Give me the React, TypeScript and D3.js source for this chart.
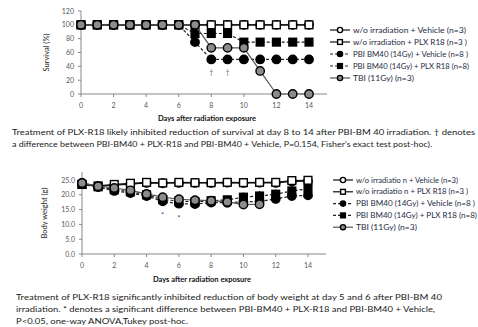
import React from "react";
import * as d3 from "d3";

// ---------- DATA ----------
const days = [0, 1, 2, 3, 4, 5, 6, 7, 8, 9, 10, 11, 12, 13, 14];
const seriesNames = [
  "w/o irradiation + Vehicle  (n=3)",
  "w/o irradiation + PLX R18 (n=3 )",
  "PBI BM40 (14Gy) + Vehicle (n=8 )",
  "PBI BM40 (14Gy) + PLX R18 (n=8)",
  "TBI (11Gy)  (n=3)",
];
const seriesNames2 = [
  "w/o irradiatio n + Vehicle  (n=3)",
  "w/o irradiatio n + PLX R18 (n=3 )",
  "PBI BM40 (14Gy) + Vehicle (n=8 )",
  "PBI BM40 (14Gy) + PLX R18 (n=8)",
  "TBI (11Gy)  (n=3)",
];
// Survival (%)
const survWoVeh = [100, 100, 100, 100, 100, 100, 100, 100, 100, 100, 100, 100, 100, 100, 100];
const survWoPlx = [100, 100, 100, 100, 100, 100, 100, 100, 100, 100, 100, 100, 100, 100, 100];
const survPbiVeh = [100, 100, 100, 100, 100, 100, 100, 75, 50, 50, 50, 50, 50, 50, 50];
const survPbiPlx = [100, 100, 100, 100, 100, 100, 100, 87.5, 87.5, 87.5, 75, 75, 75, 75, 75];
const survTbi = [100, 100, 100, 100, 100, 100, 100, 100, 66.7, 66.7, 66.7, 33.3, 0, 0, 0];
const survTicks = [0, 20, 40, 60, 80, 100, 120];
const daggerDays = [8, 9];
// Body weight (g)
const bwWoVeh = [24.0, 22.8, 23.3, 23.6, 24.0, 23.9, 24.0, 24.0, 24.0, 24.1, 24.0, 24.1, 24.0, 24.5, 24.6];
const bwWoPlx = [23.5, 23.0, 23.5, 23.9, 24.2, 24.0, 24.2, 24.1, 24.1, 24.2, 24.1, 24.2, 24.2, 24.8, 24.9];
const bwPbiVeh = [23.6, 22.6, 21.3, 20.6, 19.6, 17.8, 17.0, 16.9, 17.4, 17.3, 17.6, 17.8, 18.6, 19.6, 19.8];
const bwPbiPlx = [23.5, 22.7, 21.7, 21.0, 20.0, 18.4, 17.9, 17.6, 18.0, 18.3, 19.2, 19.6, 20.2, 21.3, 22.0];
const bwTbi = [24.0, 22.9, 22.3, 21.5, 20.3, 19.2, 18.5, 18.2, 18.0, 17.6, 16.7, 16.8];
const sdPbiVeh = [0.4, 0.5, 0.6, 0.6, 0.7, 0.8, 0.9, 1.0, 1.1, 1.2, 1.2, 1.3, 1.3, 1.2, 1.2];
const sdPbiPlx = [0.4, 0.5, 0.6, 0.6, 0.7, 0.8, 0.9, 1.0, 1.2, 1.5, 1.6, 1.7, 1.6, 1.5, 1.5];
const sdTbi = [0.3, 0.4, 0.4, 0.5, 0.6, 0.7, 0.8, 0.9, 1.3, 1.1, 0.8, 0.8];
const bwTicks = [0, 5, 10, 15, 20, 25];
const starDays = [5, 6];
const xTicks = [0, 2, 4, 6, 8, 10, 12, 14];

const caption1 = [
  "Treatment  of PLX-R18 likely inhibited reduction of survival at day 8 to 14 after PBI-BM 40 irradiation.  \u2020 denotes",
  "a difference between  PBI-BM40 + PLX-R18 and PBI-BM40 + Vehicle,  P=0.154, Fisher's exact test post-hoc).",
];
const caption2 = [
  "Treatment  of PLX-R18 significantly inhibited  reduction of body weight  at day 5 and  6 after PBI-BM 40",
  "irradiation.  * denotes  a significant  difference  between  PBI-BM40 + PLX-R18 and PBI-BM40 + Vehicle,",
  "P<0.05, one-way ANOVA,Tukey  post-hoc.",
];

const FONT = "Lato, 'Open Sans', sans-serif";

type Style = { shape: "circle" | "square"; fill: string; dash?: string; lineColor: string };
const styles: Style[] = [
  { shape: "circle", fill: "#ffffff", lineColor: "#111" },
  { shape: "square", fill: "#ffffff", lineColor: "#111" },
  { shape: "circle", fill: "#000000", dash: "3,2", lineColor: "#222" },
  { shape: "square", fill: "#000000", dash: "3,2", lineColor: "#222" },
  { shape: "circle", fill: "#8c8c8c", lineColor: "#555" },
];

function Marker({ x, y, s, r }: { x: number; y: number; s: Style; r: number }) {
  if (s.shape === "circle")
    return <circle cx={x} cy={y} r={r} fill={s.fill} stroke="#000" strokeWidth={1.4} />;
  const h = r * 0.92;
  return <rect x={x - h} y={y - h} width={2 * h} height={2 * h} fill={s.fill} stroke="#000" strokeWidth={1.4} />;
}

type ChartProps = {
  series: number[][];
  sds?: (number[] | null)[];
  yDomain: [number, number];
  yRange: [number, number];
  xRange: [number, number];
  axisTop: number;
  axisRight: number;
  yTicks: number[];
  fmt: (v: number) => string;
  yTitle: string;
  yTitleX: number;
  xTitleX: number;
  xTitleY: number;
  xLabelY: number;
  legendX: number;
  legendY: number;
  legendStep: number;
  legendNames: string[];
  legendLens: number[];
  marks: { days: number[]; y: number; ch: string; color: string; size: number };
};

function Chart(p: ChartProps) {
  const x = d3.scaleLinear().domain([0, 14]).range(p.xRange);
  const y = d3.scaleLinear().domain(p.yDomain).range(p.yRange);
  const y0 = p.yRange[0];
  const x0 = p.xRange[0];
  const line = d3
    .line<number>()
    .x((_, i) => x(days[i]))
    .y((v) => y(v));
  const yMid = (p.yRange[0] + p.axisTop) / 2;
  return (
    <g fontFamily={FONT}>
      {/* axes */}
      <line x1={x0} x2={x0} y1={p.axisTop} y2={y0} stroke="#888" strokeWidth={1} />
      <line x1={x0} x2={p.axisRight} y1={y0} y2={y0} stroke="#888" strokeWidth={1} />
      {p.yTicks.map((t) => (
        <g key={"yt" + t}>
          <line x1={x0 - 3} x2={x0} y1={y(t)} y2={y(t)} stroke="#888" />
          <text x={x0 - 7} y={y(t) + 2.5} fontSize={7} fill="#595959" textAnchor="end">
            {p.fmt(t)}
          </text>
        </g>
      ))}
      {xTicks.map((t) => (
        <g key={"xt" + t}>
          <line x1={x(t)} x2={x(t)} y1={y0} y2={y0 + 3} stroke="#888" />
          <text x={x(t)} y={p.xLabelY} fontSize={7} fill="#595959" textAnchor="middle">
            {t}
          </text>
        </g>
      ))}
      <text
        transform={`translate(${p.yTitleX},${yMid}) rotate(-90)`}
        fontSize={7.5}
        fill="#222"
        textAnchor="middle"
        dominantBaseline="middle"
      >
        {p.yTitle}
      </text>
      <text x={p.xTitleX} y={p.xTitleY} fontSize={7.5} fontWeight="bold" fill="#111" textAnchor="middle">
        Days after radiation exposure
      </text>
      {/* error bars */}
      {p.sds &&
        p.sds.map((sd, si) =>
          sd
            ? sd.map((e, i) => (
                <line
                  key={"e" + si + "-" + i}
                  x1={x(days[i])}
                  x2={x(days[i])}
                  y1={y(p.series[si][i] - e)}
                  y2={y(p.series[si][i] + e)}
                  stroke="#000"
                  strokeWidth={1}
                />
              ))
            : null
        )}
      {/* series */}
      {p.series.map((vals, si) => (
        <g key={"s" + si}>
          <path d={line(vals) || ""} fill="none" stroke={styles[si].lineColor} strokeWidth={1.2} strokeDasharray={styles[si].dash} />
          {vals.map((v, i) => (
            <Marker key={i} x={x(days[i])} y={y(v)} s={styles[si]} r={4.2} />
          ))}
        </g>
      ))}
      {/* significance marks */}
      {p.marks.days.map((d, i) => (
        <text key={"m" + d} x={x(d)} y={p.marks.y + i * (p.marks.ch === "*" ? 3 : 0)} fontSize={p.marks.size} fill={p.marks.color} textAnchor="middle">
          {p.marks.ch}
        </text>
      ))}
      {/* legend */}
      {p.legendNames.map((n, i) => {
        const ly = p.legendY + i * p.legendStep;
        const s = styles[i];
        return (
          <g key={"l" + i}>
            <line x1={p.legendX} x2={p.legendX + 20} y1={ly} y2={ly} stroke={s.lineColor} strokeWidth={1.2} strokeDasharray={s.dash} />
            <Marker x={p.legendX + 10} y={ly} s={s} r={2.6} />
            <text x={p.legendX + 23} y={ly + 2.5} fontSize={7} fill="#1e2a3f" textLength={p.legendLens[i]} lengthAdjust="spacingAndGlyphs">
              {n}
            </text>
          </g>
        );
      })}
    </g>
  );
}

export default function App() {
  return (
    <svg width={478} height={327} style={{ position: "absolute", left: 0, top: 0, background: "#fff" }}>
      <rect width={478} height={327} fill="#fff" />
      <Chart
        series={[survWoVeh, survWoPlx, survPbiVeh, survPbiPlx, survTbi]}
        yDomain={[0, 120]}
        yRange={[94, 11]}
        xRange={[81, 309]}
        axisTop={11}
        axisRight={327}
        yTicks={survTicks}
        fmt={(v) => String(v)}
        yTitle="Survival (%)"
        yTitleX={47}
        xTitleX={207}
        xTitleY={121}
        xLabelY={108}
        legendX={330}
        legendY={30}
        legendStep={12}
        legendNames={seriesNames}
        legendLens={[113, 114, 115, 116, 61]}
        marks={{ days: daggerDays, y: 75, ch: "\u2020", color: "#5a6a8a", size: 7 }}
      />
      <Chart
        series={[bwWoVeh, bwWoPlx, bwPbiVeh, bwPbiPlx, bwTbi]}
        sds={[null, null, sdPbiVeh, sdPbiPlx, sdTbi]}
        yDomain={[0, 25]}
        yRange={[254, 180]}
        xRange={[82, 308]}
        axisTop={172}
        axisRight={326}
        yTicks={bwTicks}
        fmt={(v) => v.toFixed(1)}
        yTitle="Body weight (g)"
        yTitleX={45}
        xTitleX={202}
        xTitleY={282}
        xLabelY={268}
        legendX={333}
        legendY={180}
        legendStep={11.8}
        legendNames={seriesNames2}
        legendLens={[102, 112, 119, 121, 61]}
        marks={{ days: starDays, y: 218, ch: "*", color: "#3050a0", size: 7.5 }}
      />
      <g fontFamily={FONT} fontSize={7.5} fill="#222">
        {caption1.map((t, i) => (
          <text key={"c1" + i} x={12} y={135 + i * 11.5} textLength={i === 0 ? 463 : 420} lengthAdjust="spacingAndGlyphs">
            {t}
          </text>
        ))}
        {caption2.map((t, i) => (
          <text key={"c2" + i} x={16} y={300 + i * 12} textLength={[426, 419, 172][i]} lengthAdjust="spacingAndGlyphs">
            {t}
          </text>
        ))}
      </g>
    </svg>
  );
}
